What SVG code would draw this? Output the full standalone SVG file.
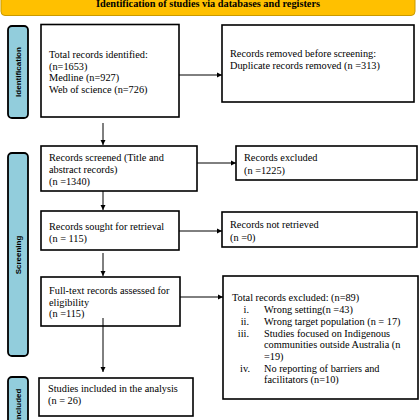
<svg xmlns="http://www.w3.org/2000/svg" width="420" height="420" viewBox="0 0 420 420">
<style>
.box{fill:#fff;stroke:#000;stroke-width:1.6}
.bar{fill:#92CDDC;stroke:#000;stroke-width:1.8}
.t{font-family:"Liberation Serif","Times New Roman",serif;font-size:10.3px;fill:#000}
.bt{font-family:"Liberation Sans",Arial,sans-serif;font-weight:bold;font-size:8px;fill:#000}
.ln{stroke:#000;stroke-width:1;fill:none;marker-end:url(#ah)}
</style>
<defs>
<marker id="ah" markerWidth="6" markerHeight="6" refX="5" refY="3" orient="auto" markerUnits="userSpaceOnUse">
<path d="M0,0.5 L5,3 L0,5.5 Z" fill="#000"/>
</marker>
</defs>
<rect width="420" height="420" fill="#fff"/>
<g id="banner">
<rect x="1" y="-10" width="414" height="25.5" rx="4" fill="#FFC000" stroke="#C99A00" stroke-width="1"/>
<text x="208" y="6.5" text-anchor="middle" class="t" style="font-weight:bold">Identification of studies via databases and registers</text>
</g>
<g id="phase-identification">
<rect class="bar" x="8" y="26" width="20" height="92" rx="4"/>
<text class="bt" transform="translate(21,72) rotate(-90)" text-anchor="middle">Identification</text>
</g>
<g id="phase-screening">
<rect class="bar" x="8" y="153" width="20" height="203" rx="4"/>
<text class="bt" transform="translate(21,255) rotate(-90)" text-anchor="middle">Screening</text>
</g>
<g id="phase-included">
<rect class="bar" x="8" y="377" width="20" height="60" rx="4"/>
<text class="bt" transform="translate(21,405) rotate(-90)" text-anchor="middle">Included</text>
</g>
<g id="identified">
<rect class="box" x="41" y="24.5" width="138" height="92.5"/>
<text class="t" x="49" y="57.5">Total records identified:</text>
<text class="t" x="49" y="69.5">(n=1653)</text>
<text class="t" x="49" y="81">Medline (n=927)</text>
<text class="t" x="49" y="93">Web of science (n=726)</text>
</g>
<g id="removed">
<rect class="box" x="222" y="25" width="192" height="77"/>
<text class="t" x="230" y="56.5">Records removed before screening:</text>
<text class="t" x="230" y="68.5">Duplicate records removed (n =313)</text>
</g>
<g id="screened">
<rect class="box" x="41" y="146" width="156" height="45"/>
<text class="t" x="49" y="160.5">Records screened (Title and</text>
<text class="t" x="49" y="172.5">abstract records)</text>
<text class="t" x="49" y="185">(n =1340)</text>
</g>
<g id="excluded">
<rect class="box" x="236" y="146" width="181" height="34"/>
<text class="t" x="244" y="160.5">Records excluded</text>
<text class="t" x="244" y="173.5">(n =1225)</text>
</g>
<g id="sought">
<rect class="box" x="41" y="211" width="138" height="39"/>
<text class="t" x="49" y="229.5">Records sought for retrieval</text>
<text class="t" x="49" y="241.5">(n = 115)</text>
</g>
<g id="not-retrieved">
<rect class="box" x="222" y="212" width="195" height="35"/>
<text class="t" x="230" y="227.5">Records not retrieved</text>
<text class="t" x="230" y="240.5">(n =0)</text>
</g>
<g id="fulltext">
<rect class="box" x="41" y="277" width="139" height="49"/>
<text class="t" x="49" y="293.5">Full-text records assessed for</text>
<text class="t" x="49" y="305.5">eligibility</text>
<text class="t" x="49" y="317">(n =115)</text>
</g>
<g id="total-excluded">
<rect class="box" x="223" y="276" width="195" height="123"/>
<text class="t" x="232" y="300.5">Total records excluded: (n=89)</text>
<text class="t" x="249" y="312.5" text-anchor="end">i.</text>
<text class="t" x="264" y="312.5">Wrong setting(n =43)</text>
<text class="t" x="249" y="324.5" text-anchor="end">ii.</text>
<text class="t" x="264" y="324.5">Wrong target population (n = 17)</text>
<text class="t" x="249" y="336.5" text-anchor="end">iii.</text>
<text class="t" x="264" y="336.5">Studies focused on Indigenous</text>
<text class="t" x="264" y="348">communities outside Australia (n</text>
<text class="t" x="264" y="359.5">=19)</text>
<text class="t" x="250" y="371.5" text-anchor="end">iv.</text>
<text class="t" x="264" y="371.5">No reporting of barriers and</text>
<text class="t" x="264" y="383">facilitators (n=10)</text>
</g>
<g id="included">
<rect class="box" x="39" y="378" width="154" height="38"/>
<text class="t" x="48" y="391.5">Studies included in the analysis</text>
<text class="t" x="48" y="403.5">(n = 26)</text>
</g>
<g id="connectors">
<line class="ln" x1="179" y1="75" x2="222" y2="75"/>
<line class="ln" x1="103" y1="123" x2="103" y2="145"/>
<line class="ln" x1="197" y1="163" x2="236" y2="163"/>
<line class="ln" x1="103" y1="191" x2="103" y2="210"/>
<line class="ln" x1="179" y1="231" x2="222" y2="231"/>
<line class="ln" x1="103" y1="253" x2="103" y2="276"/>
<line class="ln" x1="180" y1="297" x2="223" y2="297"/>
<line class="ln" x1="103" y1="318" x2="103" y2="372"/>
</g>
</svg>
